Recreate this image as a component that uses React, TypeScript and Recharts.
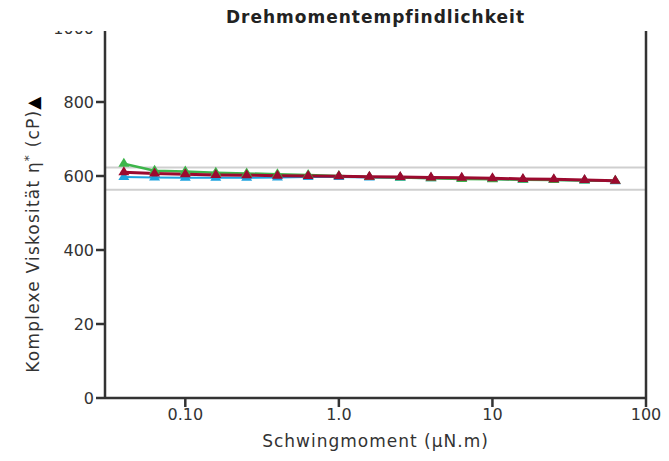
import { LineChart, Line, XAxis, YAxis, ReferenceLine, Label } from "recharts";

// Schwingmoment (µN.m), 5 Punkte pro Dekade
const torque = [0.0398, 0.0631, 0.1, 0.158, 0.251, 0.398, 0.631, 1.0, 1.58, 2.51, 3.98, 6.31, 10, 15.8, 25.1, 39.8, 63.1];
const viscGreen = [633, 614, 612, 609, 607, 605, 603, 600, 597, 596, 594, 592, 591, 590, 589, 588, 587];
const viscBlue = [597, 596, 595, 595, 595, 596, 597, 597, 596, 595, 594, 593, 592, 590, 589, 588, 586];
const viscRed = [610, 607, 605, 603, 602, 601, 600, 599, 598, 597, 596, 595, 594, 592, 591, 589, 587];

const limits = [623, 563];

const xTicks = [0.1, 1, 10, 100];
const xTickLabels = ["0.10", "1.0", "10", "100"];
const yTicks = [0, 200, 400, 600, 800, 1000];
const yTickLabels = ["0", "20", "400", "600", "800", "1000"];

const data = torque.map((x, i) => ({
  x,
  green: viscGreen[i],
  blue: viscBlue[i],
  red: viscRed[i],
}));

const FONT = "'DejaVu Sans', sans-serif";
const AXIS = "#333";

const triangle = (color: string) => (props: any) => {
  const { cx, cy, index } = props;
  if (cx == null || cy == null) return <g key={index} />;
  return (
    <polygon
      key={`${color}-${index}`}
      points={`${cx},${cy - 6} ${cx + 5.5},${cy + 3} ${cx - 5.5},${cy + 3}`}
      fill={color}
    />
  );
};

export default function App() {
  return (
    <div style={{ position: "absolute", left: 0, top: 0, width: 669, height: 461, background: "#fff" }}>
      <LineChart
        width={669}
        height={461}
        data={data}
        margin={{ top: 28, right: 23, bottom: 0, left: 0 }}
      >
        <XAxis
          dataKey="x"
          type="number"
          scale="log"
          domain={[0.03, 100]}
          ticks={xTicks}
          tickFormatter={(v) => xTickLabels[xTicks.indexOf(v)] ?? String(v)}
          height={63}
          stroke={AXIS}
          strokeWidth={2.5}
          tickSize={9}
          tick={{ fill: AXIS, fontSize: 16, fontFamily: FONT }}
          allowDataOverflow
        >
          <Label
            value="Schwingmoment (µN.m)"
            position="insideBottom"
            offset={14}
            style={{ fill: AXIS, fontSize: 17, fontFamily: FONT, letterSpacing: 1 }}
          />
        </XAxis>
        <YAxis
          type="number"
          domain={[0, 1000]}
          ticks={yTicks}
          tickFormatter={(v) => yTickLabels[yTicks.indexOf(v)] ?? String(v)}
          width={105}
          stroke={AXIS}
          strokeWidth={2.5}
          tickSize={9}
          tick={{ fill: AXIS, fontSize: 16, fontFamily: FONT }}
          label={{
            content: () => (
              <text
                transform="translate(39,234) rotate(-90)"
                textAnchor="middle"
                fill={AXIS}
                fontSize={17}
                fontFamily={FONT}
                style={{ letterSpacing: 1.2 }}
              >
                Komplexe Viskosität η
                <tspan dy={-6} fontSize={12}>*</tspan>
                <tspan dy={6}> (cP)</tspan>
                <tspan fill="#000">▲</tspan>
              </text>
            ),
          }}
        />
        {limits.map((v) => (
          <ReferenceLine key={v} y={v} stroke="#cfcfcf" strokeWidth={2} />
        ))}
        <ReferenceLine x={100} stroke={AXIS} strokeWidth={2.5} />
        <Line
          dataKey="blue"
          stroke="#1ea3df"
          strokeWidth={2}
          dot={triangle("#1ea3df")}
          isAnimationActive={false}
        />
        <Line
          dataKey="green"
          stroke="#3db54a"
          strokeWidth={2.5}
          dot={triangle("#3db54a")}
          isAnimationActive={false}
        />
        <Line
          dataKey="red"
          stroke="#9c0a2f"
          strokeWidth={3}
          dot={triangle("#9c0a2f")}
          isAnimationActive={false}
        />
      </LineChart>
      <div
        style={{
          position: "absolute",
          left: 0,
          top: 0,
          width: 669,
          height: 31,
          background: "#fff",
        }}
      />
      <div
        style={{
          position: "absolute",
          left: 105,
          top: 7,
          width: 541,
          textAlign: "center",
          fontFamily: FONT,
          fontWeight: "bold",
          fontSize: 17,
          letterSpacing: 1,
          color: "#222",
        }}
      >
        Drehmomentempfindlichkeit
      </div>
    </div>
  );
}
